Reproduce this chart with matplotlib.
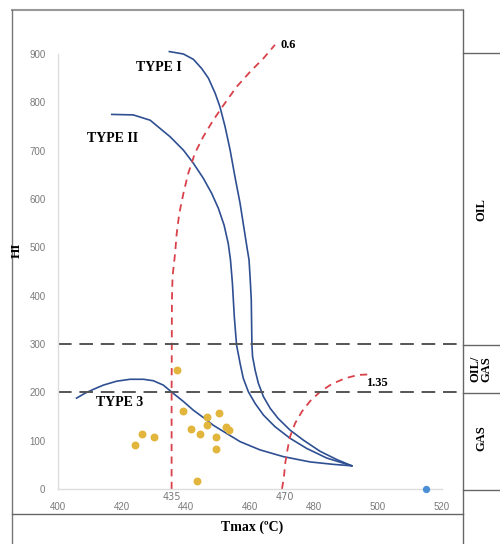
import numpy as np
import matplotlib
matplotlib.use("Agg")
import matplotlib.pyplot as plt
from matplotlib.lines import Line2D

# kerogen type curves (Tmax, HI)
type1_t = [434.8, 439.2, 442.3, 444.9, 447.0, 449.1, 450.6, 452.2, 453.8, 455.3, 456.9, 458.2, 459.2, 459.7,
           460.1, 460.4, 460.6, 460.8, 461.6, 462.6, 464.2, 466.3, 468.8, 472.5, 476.7, 481.9, 487.1, 491.8]
type1_hi = [905, 900, 889, 870, 850, 819, 791, 750, 701, 646, 591, 536, 494, 474,
            430, 391, 298, 274, 246, 219, 191, 167, 146, 122, 101, 78, 61, 48]

type2_t = [416.8, 423.5, 428.8, 435.0, 439.2, 442.3, 445.4, 448.0, 450.1, 451.9, 453.2, 453.9, 454.5,
           455.1, 455.8, 456.9, 457.9, 459.5, 461.6, 464.2, 467.8, 472.5, 477.7, 484.0, 491.8]
type2_hi = [775, 774, 763, 729, 701, 674, 643, 612, 581, 546, 508, 474, 426,
            356, 298, 260, 229, 201, 177, 153, 129, 105, 84, 64, 48]

type3_t = [405.8, 408.4, 411.0, 414.2, 418.3, 422.5, 426.7, 429.8, 432.9, 436.0, 439.2, 442.3, 445.4,
           448.5, 451.7, 456.9, 463.1, 470.4, 478.8, 486.0, 491.8]
type3_hi = [188, 198, 206, 215, 223, 227, 227, 224, 215, 198, 181, 163, 148,
            132, 119, 98, 81, 67, 56, 51, 48]

# vitrinite reflectance iso-lines
ro06_t = [435.5, 435.5, 435.6, 435.8, 436.6, 437.1, 437.9, 439.2, 440.7, 442.8, 445.4, 448.5, 451.7,
          455.8, 460.0, 464.2, 467.8]
ro06_hi = [0, 184, 391, 440, 488, 529, 570, 612, 653, 695, 729, 763, 794,
           832, 863, 891, 919]

ro135_t = [470.0, 470.6, 471.0, 471.7, 472.5, 474.1, 476.2, 478.8, 481.9, 485.5, 489.7, 493.8, 496.9]
ro135_hi = [0, 25, 53, 81, 108, 136, 160, 182, 201, 217, 229, 236, 237]

# samples
samp_t = [424.1, 426.3, 430.0, 437.2, 439.1, 441.6, 444.4, 443.4, 446.6, 446.6, 449.4, 449.4, 450.3, 452.5, 453.4]
samp_hi = [91, 114, 108, 246, 161, 124, 114, 17, 149, 132, 108, 83, 157, 128, 122]
other_t = [515]
other_hi = [0]

W, H = 500, 544
fig = plt.figure(figsize=(W / 100, H / 100), dpi=100)
ax = fig.add_axes([58 / W, 1 - 489 / H, (442 - 58) / W, (489 - 54) / H])
ax.set_xlim(400, 520)
ax.set_ylim(0, 900)

serif = "Liberation Serif"
blue = "#2E4F92"
red = "#D9414B"

for t, hi in [(type1_t, type1_hi), (type2_t, type2_hi), (type3_t, type3_hi)]:
    ax.plot(t, hi, color=blue, lw=1.2, clip_on=False, solid_joinstyle="round")

for t, hi in [(ro06_t, ro06_hi), (ro135_t, ro135_hi)]:
    ax.plot(t, hi, color=red, lw=1.3, ls=(0, (4, 3)), clip_on=False)

for lvl in [300, 200]:
    ax.plot([400, 525.5], [lvl, lvl], color="#555555", lw=1.4, ls=(0, (7, 4)), clip_on=False)

ax.scatter(samp_t, samp_hi, s=22, color="#E2B63C", zorder=3, clip_on=False)
ax.scatter(other_t, other_hi, s=18, color="#4A8FD4", zorder=3, clip_on=False)

ax.text(431.6, 873, "TYPE I", fontsize=10, fontweight="bold", family=serif, ha="center", va="center")
ax.text(416.9, 725, "TYPE II", fontsize=10, fontweight="bold", family=serif, ha="center", va="center")
ax.text(419.4, 178, "TYPE 3", fontsize=10, fontweight="bold", family=serif, ha="center", va="center")
ax.text(469.5, 919, "0.6", fontsize=9, fontweight="bold", family=serif, ha="left", va="center")
ax.text(496.3, 219, "1.35", fontsize=9, fontweight="bold", family=serif, ha="left", va="center")

ax.set_xticks(np.arange(400, 521, 20))
ax.set_yticks(np.arange(0, 901, 100))
ax.tick_params(length=0, labelsize=7, labelcolor="#7a7a7a", pad=9)
for lab in ax.get_xticklabels() + ax.get_yticklabels():
    lab.set_family("Liberation Sans")
ax.text(435.5, -17, "435", fontsize=7, color="#7a7a7a", ha="center", va="center")
ax.text(471, -17, "470", fontsize=7, color="#7a7a7a", ha="center", va="center")

for s in ["top", "right"]:
    ax.spines[s].set_visible(False)
for s in ["left", "bottom"]:
    ax.spines[s].set_color("#dddddd")
    ax.spines[s].set_linewidth(1)

fig.text(17 / W, 1 - 250 / H, "HI", rotation=90, fontsize=9.5, fontweight="bold", family=serif, ha="center", va="center")
fig.text(252 / W, 1 - 527 / H, "Tmax (ºC)", fontsize=10, fontweight="bold", family=serif, ha="center", va="center")

fig.text(481 / W, 1 - 210 / H, "OIL", rotation=90, fontsize=9, fontweight="bold", family=serif, ha="center", va="center")
fig.text(481 / W, 1 - 369 / H, "OIL/\nGAS", rotation=90, fontsize=9, fontweight="bold", family=serif, ha="center", va="center", linespacing=0.95)
fig.text(481 / W, 1 - 438 / H, "GAS", rotation=90, fontsize=9, fontweight="bold", family=serif, ha="center", va="center")


def fline(x0, y0, x1, y1, c="#777777", lw=1.0):
    fig.add_artist(Line2D([x0 / W, x1 / W], [1 - y0 / H, 1 - y1 / H], color=c, lw=lw, transform=fig.transFigure))


fline(12, 10, 463, 10, "#999999", 1.5)
fline(12, 10, 12, H, "#777777", 1.0)
fline(463, 10, 463, H, "#666666", 1.0)
fline(12, 514, 463, 514, "#666666", 1.0)
for yy in [53, 345, 393, 490]:
    fline(463, yy, W, yy, "#666666", 1.0)

fig.savefig("out.png", dpi=100, facecolor="white")
